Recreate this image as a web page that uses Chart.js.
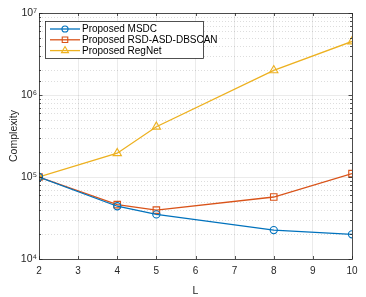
<!DOCTYPE html>
<html>
<head>
<meta charset="utf-8">
<script src="https://cdn.jsdelivr.net/npm/chart.js@4.4.1/dist/chart.umd.min.js"></script>
<style>
html, body { margin: 0; padding: 0; background: #fff; }
</style>
</head>
<body>
<canvas id="chart" width="366" height="297"></canvas>
<script>
// values
const L = [2, 4, 5, 8, 10];
const msdc = [1.0e5, 4.4e4, 3.5e4, 2.25e4, 2.0e4];
const rsd = [1.0e5, 4.6e4, 3.95e4, 5.7e4, 1.1e5];
const regnet = [1.0e5, 1.95e5, 4.1e5, 2.0e6, 4.5e6];

const names = ["Proposed MSDC", "Proposed RSD-ASD-DBSCAN", "Proposed RegNet"];
const colors = ["#0072BD", "#D95319", "#EDB120"];
const markers = ["circle", "rect", "triangle"];
const markerSize = [3.6, 4.6, 4.8];
const yLabels = { 4: "10\u2074", 5: "10\u2075", 6: "10\u2076", 7: "10\u2077" };

const font = "'Liberation Sans', Arial, sans-serif";
const axisColor = "#262626";

function isDecade(v) {
    const e = Math.log10(v);
    return Math.abs(e - Math.round(e)) < 1e-9;
}

function makeSet(i, vals) {
    return {
        label: names[i],
        data: L.map((x, k) => ({ x: x, y: vals[k] })),
        borderColor: colors[i],
        backgroundColor: "rgba(0,0,0,0)",
        borderWidth: 1.3,
        pointStyle: markers[i],
        pointRadius: markerSize[i],
        pointBorderWidth: 1.1,
        pointBorderColor: colors[i],
        pointBackgroundColor: "rgba(0,0,0,0)",
        tension: 0
    };
}

// matlab style box, inner ticks and dotted minor grid
const boxPlugin = {
    id: "box",
    beforeDatasetsDraw(chart) {
        const { ctx, chartArea: a } = chart;
        const y = chart.scales.y;
        ctx.save();
        ctx.strokeStyle = "rgba(38,38,38,0.2)";
        ctx.lineWidth = 0.8;
        ctx.setLineDash([1, 2]);
        y.ticks.forEach(t => {
            if (isDecade(t.value)) return;
            const py = Math.round(y.getPixelForValue(t.value)) + 0.5;
            ctx.beginPath();
            ctx.moveTo(a.left, py);
            ctx.lineTo(a.right, py);
            ctx.stroke();
        });
        ctx.restore();
    },
    afterDraw(chart) {
        const { ctx, chartArea: a } = chart;
        const x = chart.scales.x;
        const y = chart.scales.y;
        ctx.save();
        ctx.strokeStyle = axisColor;
        ctx.lineWidth = 0.8;
        ctx.beginPath();
        x.ticks.forEach(t => {
            const px = Math.round(x.getPixelForValue(t.value)) + 0.5;
            ctx.moveTo(px, a.bottom); ctx.lineTo(px, a.bottom - 3);
            ctx.moveTo(px, a.top); ctx.lineTo(px, a.top + 3);
        });
        y.ticks.forEach(t => {
            const len = isDecade(t.value) ? 3.5 : 2;
            const py = Math.round(y.getPixelForValue(t.value)) + 0.5;
            ctx.moveTo(a.left, py); ctx.lineTo(a.left + len, py);
            ctx.moveTo(a.right, py); ctx.lineTo(a.right - len, py);
        });
        ctx.stroke();
        ctx.strokeRect(Math.round(a.left) + 0.5, Math.round(a.top) + 0.5,
            Math.round(a.right - a.left), Math.round(a.bottom - a.top));

        // legend box
        const lx = a.left + 6, ly = a.top + 8, lw = 158, lh = 37;
        ctx.fillStyle = "#fff";
        ctx.fillRect(lx, ly, lw, lh);
        ctx.strokeStyle = axisColor;
        ctx.lineWidth = 0.8;
        ctx.strokeRect(Math.round(lx) + 0.5, Math.round(ly) + 0.5, lw, lh);
        ctx.textBaseline = "middle";
        names.forEach((n, i) => {
            const ry = ly + 8 + i * 10.8;
            ctx.strokeStyle = colors[i];
            ctx.lineWidth = 1.3;
            ctx.beginPath();
            ctx.moveTo(lx + 5, ry);
            ctx.lineTo(lx + 35, ry);
            ctx.stroke();
            ctx.fillStyle = "rgba(0,0,0,0)";
            ctx.lineWidth = 1.1;
            Chart.helpers.drawPoint(ctx, {
                pointStyle: markers[i],
                radius: markerSize[i] * 0.85,
                borderWidth: 1.1
            }, lx + 20, ry);
            ctx.fillStyle = "#000";
            ctx.font = "10px " + font;
            ctx.fillText(n, lx + 37, ry + 0.5);
        });
        ctx.restore();
    }
};

new Chart(document.getElementById("chart"), {
    type: "line",
    data: {
        datasets: [makeSet(0, msdc), makeSet(1, rsd), makeSet(2, regnet)]
    },
    options: {
        responsive: false,
        animation: false,
        layout: { padding: { top: 13, right: 14, left: 0, bottom: 0 } },
        plugins: { legend: { display: false }, tooltip: { enabled: false } },
        scales: {
            x: {
                type: "linear",
                min: 2,
                max: 10,
                ticks: {
                    stepSize: 1,
                    color: axisColor,
                    font: { family: font, size: 10 },
                    padding: 6
                },
                grid: { color: "rgba(38,38,38,0.12)", lineWidth: 0.8, drawTicks: false },
                border: { display: false },
                title: {
                    display: true,
                    text: "L",
                    color: axisColor,
                    font: { family: font, size: 10.5 },
                    padding: { top: 0, bottom: 0 }
                },
                afterFit(s) { s.height = 38; }
            },
            y: {
                type: "logarithmic",
                min: 1e4,
                max: 1e7,
                ticks: {
                    autoSkip: false,
                    color: axisColor,
                    font: { family: font, size: 10.5 },
                    padding: 2,
                    callback: v => isDecade(v) ? yLabels[Math.round(Math.log10(v))] : ""
                },
                grid: {
                    color: c => isDecade(c.tick.value) ? "rgba(38,38,38,0.12)" : "rgba(0,0,0,0)",
                    lineWidth: 0.8,
                    drawTicks: false
                },
                border: { display: false },
                title: {
                    display: true,
                    text: "Complexity",
                    color: axisColor,
                    font: { family: font, size: 10.5 },
                    padding: { top: 8, bottom: 0 }
                },
                afterFit(s) { s.width = 39; }
            }
        }
    },
    plugins: [boxPlugin]
});
</script>
</body>
</html>
